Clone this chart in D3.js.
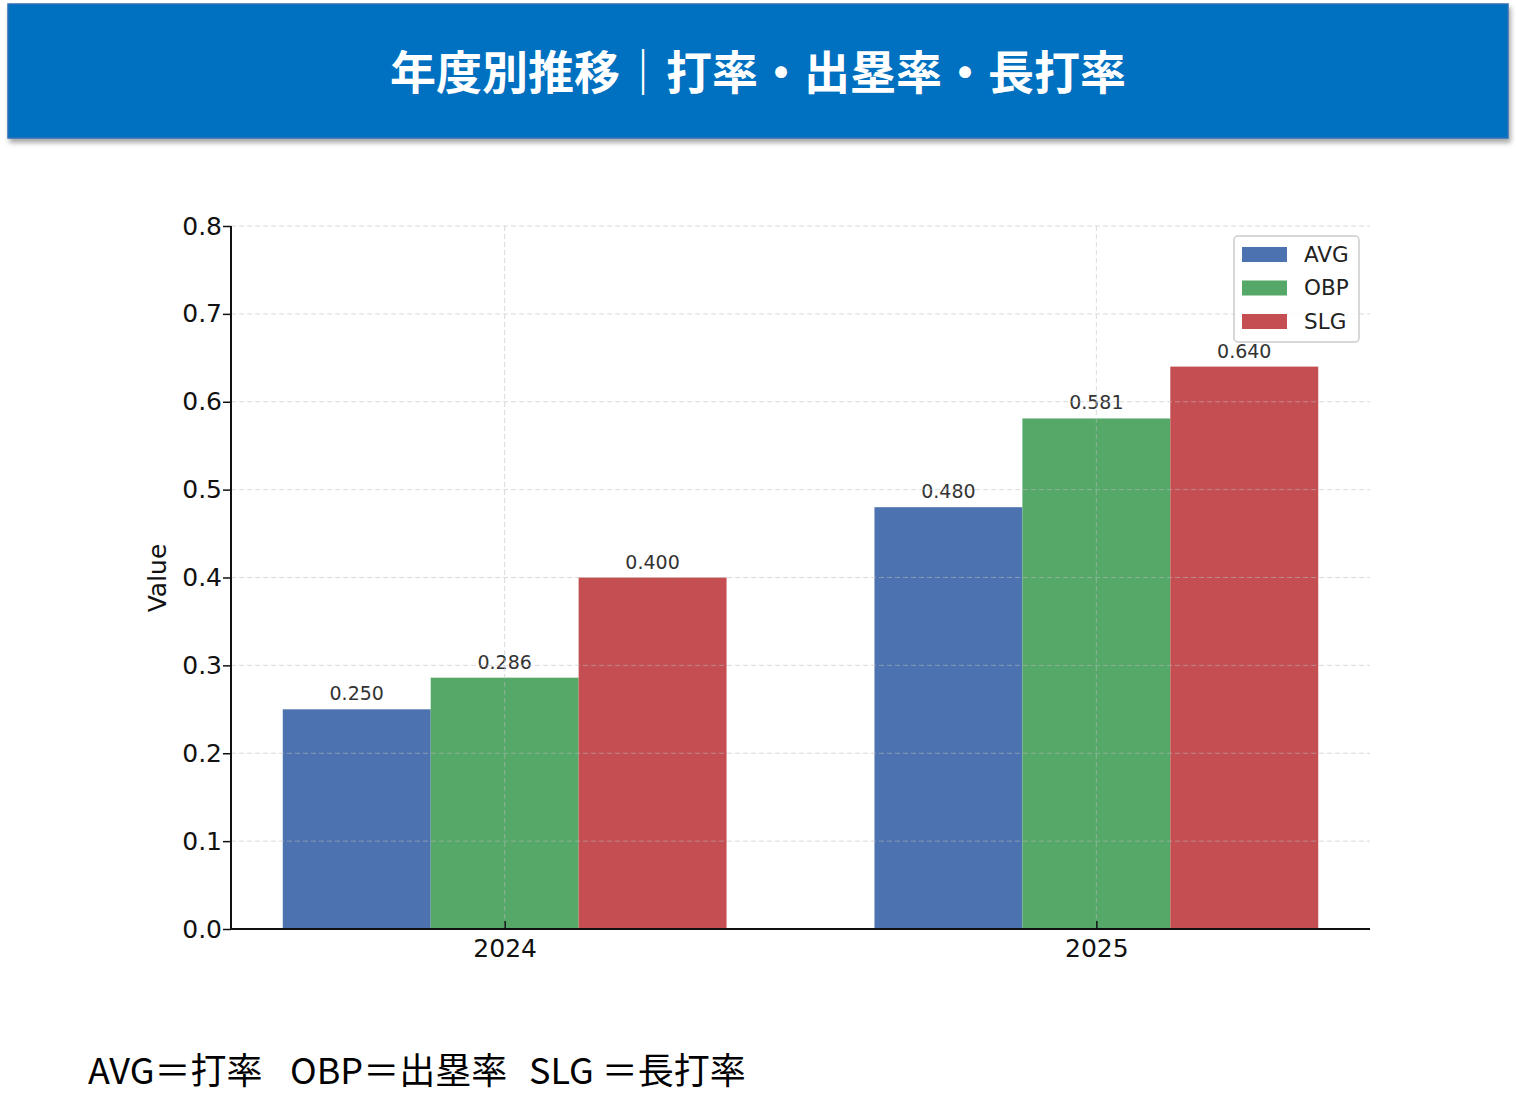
<!DOCTYPE html>
<html><head><meta charset="utf-8">
<script src="https://cdn.jsdelivr.net/npm/d3@7/dist/d3.min.js"></script>
<style>body{margin:0;background:#fff;}svg{display:block;}</style>
</head><body>
<svg id="c" width="1516" height="1116"></svg>
<script>
const years = ["2024", "2025"];
const seriesNames = ["AVG", "OBP", "SLG"];
const avgValues = [0.250, 0.480];
const obpValues = [0.286, 0.581];
const slgValues = [0.400, 0.640];
const yTicks = [0.0, 0.1, 0.2, 0.3, 0.4, 0.5, 0.6, 0.7, 0.8];
const colors = ["#4C72B0", "#55A868", "#C44E52"];
const titleText = "年度別推移｜打率・出塁率・長打率";
const footParts = ["AVG＝打率", "OBP＝出塁率", "SLG ＝長打率"];

const svg = d3.select("#c");
const defs = svg.append("defs");
const f = defs.append("filter").attr("id","sh").attr("x","-5%").attr("y","-20%").attr("width","110%").attr("height","150%");
f.append("feDropShadow").attr("dx",2).attr("dy",4).attr("stdDeviation",2.5).attr("flood-color","#000").attr("flood-opacity",0.35);

// Header
svg.append("rect").attr("x",8).attr("y",4).attr("width",1500).attr("height",134)
  .attr("fill","#0070C0").attr("stroke","#2F6FB5").attr("stroke-width",1.5).attr("filter","url(#sh)");
svg.append("text").attr("x",758).attr("y",89).attr("text-anchor","middle")
  .attr("font-family","'Noto Sans CJK JP'").attr("font-weight","bold").attr("font-size",46)
  .attr("fill","#fff").text(titleText);

// Chart
const pL = 231, pR = 1370, pT = 226, pB = 929;
const x0 = d3.scaleLinear().domain([-0.4625, 1.4625]).range([pL, pR]);
const y = d3.scaleLinear().domain([0, 0.8]).range([pB, pT]);
const barW = 0.25;
const data = years.map((yr,i)=>({year:yr, idx:i, vals:[avgValues[i], obpValues[i], slgValues[i]]}));

const g = svg.append("g");
const font = "'DejaVu Sans'";

// bars
data.forEach(d=>{
  d.vals.forEach((v,j)=>{
    const cx = d.idx + (j-1)*barW;
    g.append("rect").attr("x",x0(cx-barW/2)).attr("width",x0(cx+barW/2)-x0(cx-barW/2))
      .attr("y",y(v)).attr("height",y(0)-y(v)).attr("fill",colors[j]);
    g.append("text").attr("x",x0(cx)).attr("y",y(v)-9).attr("text-anchor","middle")
      .attr("font-family",font).attr("font-size",19).attr("fill","#333").text(v.toFixed(3));
  });
});

// grid (on top)
const grid = svg.append("g").attr("stroke","#bbb").attr("stroke-opacity",0.55).attr("stroke-dasharray","5,3").attr("stroke-width",1);
yTicks.slice(1).forEach(t=>grid.append("line").attr("x1",pL).attr("x2",pR).attr("y1",y(t)).attr("y2",y(t)));
years.forEach((yr,i)=>grid.append("line").attr("x1",x0(i)).attr("x2",x0(i)).attr("y1",pT).attr("y2",pB));

// axes
const yAxis = d3.axisLeft(y).tickValues(yTicks).tickFormat(d3.format(".1f")).tickSize(8).tickPadding(1);
const ya = svg.append("g").attr("transform",`translate(${pL},0)`).call(yAxis);
const xAxis = d3.axisBottom(x0).tickValues([0,1]).tickFormat(i=>years[i]).tickSize(8).tickPadding(4);
const xa = svg.append("g").attr("transform",`translate(0,${pB})`).call(xAxis);
[ya,xa].forEach(a=>{
  a.select(".domain").attr("stroke","#111").attr("stroke-width",2);
  a.selectAll(".tick line").attr("stroke","#111").attr("stroke-width",1.5);
  a.selectAll(".tick text").attr("font-family",font).attr("font-size",25).attr("fill","#111");
});
xa.select(".domain").attr("d",`M${pL},0H${pR}`);
xa.selectAll(".tick line").attr("y1",-8).attr("y2",0);
xa.selectAll(".tick text").attr("dy","0.71em").attr("y",10);
ya.select(".domain").attr("d",`M0,${pT}V${pB}`);

svg.append("text").attr("transform",`translate(166,578) rotate(-90)`).attr("text-anchor","middle")
  .attr("font-family",font).attr("font-size",25).attr("fill","#111").text("Value");

// legend
const lg = svg.append("g");
lg.append("rect").attr("x",1234).attr("y",236).attr("width",125).attr("height",106).attr("rx",4)
  .attr("fill","#fff").attr("fill-opacity",0.8).attr("stroke","#ccc").attr("stroke-width",1.5);
seriesNames.forEach((s,j)=>{
  const cy = 254 + j*33.5;
  lg.append("rect").attr("x",1242).attr("y",cy-7).attr("width",45).attr("height",15).attr("fill",colors[j]);
  lg.append("text").attr("x",1304).attr("y",cy).attr("dy","0.36em").attr("font-family",font).attr("font-size",21.5).attr("fill","#222").text(s);
});

// footnote
const footX = [88, 290, 529];
footParts.forEach((t,i)=>{
  svg.append("text").attr("x",footX[i]).attr("y",1084).attr("font-family","'Noto Sans CJK JP'")
    .attr("font-size",36).attr("fill","#000").text(t);
});
</script>
</body></html>
